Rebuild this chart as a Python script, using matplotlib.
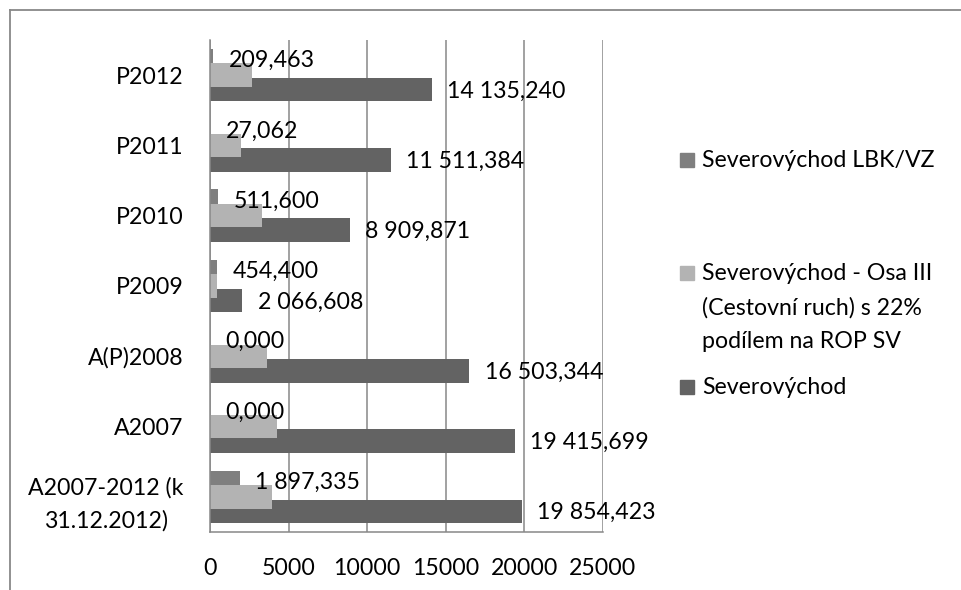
import matplotlib
matplotlib.use("Agg")
import matplotlib.pyplot as plt
from matplotlib.lines import Line2D
from matplotlib.patches import Rectangle

plt.rcParams["font.family"] = ["Lato", "DejaVu Sans"]

categories = [
    "P2012", "P2011", "P2010", "P2009", "A(P)2008", "A2007",
    "A2007-2012 (k\n31.12.2012)",
]
lbk_vz = [209.463, 27.062, 511.600, 454.400, 0.000, 0.000, 1897.335]
osa_iii = [2690, 1950, 3310, 440, 3640, 4260, 3950]
severovychod = [14135.240, 11511.384, 8909.871, 2066.608, 16503.344,
                19415.699, 19854.423]
x_ticks = [0, 5000, 10000, 15000, 20000, 25000]

series_names = [
    "Severovýchod LBK/VZ",
    "Severovýchod - Osa III\n(Cestovní ruch) s 22%\npodílem na ROP SV",
    "Severovýchod",
]

C_LBK = "#7f7f7f"
C_OSA = "#b3b3b3"
C_SV = "#636363"
GRID = "#888888"
TEXT = "#000000"
FS = 16.7

W, H = 961, 590


def cz(v):
    # czech number format: space as thousands separator, decimal comma
    return f"{v:,.3f}".replace(",", " ").replace(".", ",")


fig = plt.figure(figsize=(W / 100, H / 100), dpi=100)
fig.patch.set_facecolor("white")
ax = fig.add_axes([210 / W, 1 - 532 / H, (603 - 210) / W, (532 - 40) / H])

ys = list(range(len(categories)))
step = 0.206
bh = 0.335

ax.barh([y - step for y in ys], lbk_vz, height=bh, color=C_LBK, zorder=2)
ax.barh([y + step for y in ys], severovychod, height=bh, color=C_SV, zorder=2)
ax.barh(ys, osa_iii, height=bh, color=C_OSA, zorder=3)

for y, v in zip(ys, lbk_vz):
    ax.annotate(cz(v), xy=(v, y - step), xytext=(11, 0),
                textcoords="offset points", ha="left", va="center",
                fontsize=FS, color=TEXT, zorder=5)
for y, v in zip(ys, severovychod):
    ax.annotate(cz(v), xy=(v, y + step), xytext=(11, -1),
                textcoords="offset points", ha="left", va="center",
                fontsize=FS, color=TEXT, zorder=5)

ax.set_xlim(0, 25000)
ax.set_ylim(len(categories) - 0.5, -0.5)
ax.set_xticks(x_ticks)
ax.set_xticklabels([str(t) for t in x_ticks])
ax.set_yticks(ys)
ax.set_yticklabels(categories)
for lab in ax.get_yticklabels():
    lab.set_multialignment("center")
    lab.set_linespacing(1.65)
ax.tick_params(axis="x", length=0, pad=18.5, labelsize=FS, colors=TEXT)
ax.tick_params(axis="y", length=0, pad=19, labelsize=FS, colors=TEXT)

ax.grid(axis="x", color=GRID, linewidth=1.1, zorder=1)
ax.set_axisbelow(True)
for side in ("top", "right"):
    ax.spines[side].set_visible(False)
for side in ("left", "bottom"):
    ax.spines[side].set_color(GRID)
    ax.spines[side].set_linewidth(1.1)
    ax.spines[side].set_zorder(4)

# legend drawn by hand on the right
legend_items = [(C_LBK, series_names[0], 160),
                (C_OSA, series_names[1], 273),
                (C_SV, series_names[2], 387)]
for color, label, yc in legend_items:
    fig.patches.append(Rectangle((680 / W, 1 - (yc + 7) / H), 14 / W, 14 / H,
                                 transform=fig.transFigure, color=color))
    fig.text(702 / W, 1 - (yc - 10) / H, label, fontsize=FS, color=TEXT,
             ha="left", va="top", linespacing=1.73)

# outer chart frame
fig.add_artist(Line2D([10 / W, 1], [1 - 10 / H, 1 - 10 / H],
                      transform=fig.transFigure, color=GRID, linewidth=1.3))
fig.add_artist(Line2D([10 / W, 10 / W], [1 - 10 / H, 0],
                      transform=fig.transFigure, color=GRID, linewidth=1.3))

fig.savefig("out.png", dpi=100, facecolor="white")
